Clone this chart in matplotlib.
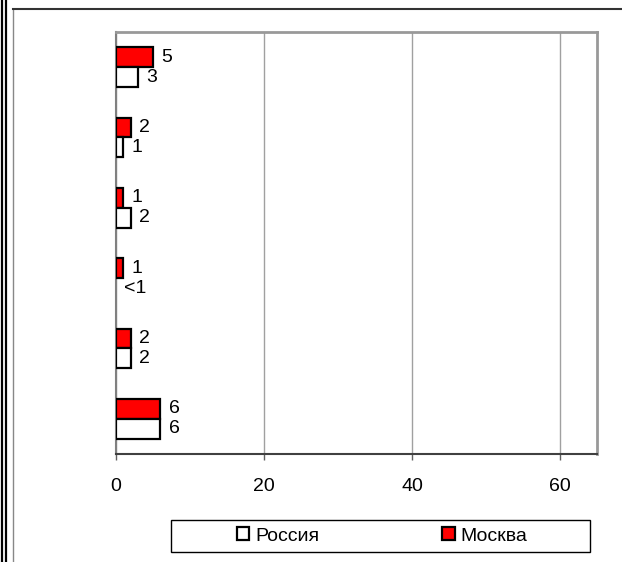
import numpy as np
import matplotlib.pyplot as plt
from matplotlib.lines import Line2D
from matplotlib.patches import Rectangle, Patch

# data, top category first
moskva = [5, 2, 1, 1, 2, 6]
rossiya = [3, 1, 2, 0, 2, 6]
moskva_labels = ["5", "2", "1", "1", "2", "6"]
rossiya_labels = ["3", "1", "2", "<1", "2", "6"]
x_ticks = [0, 20, 40, 60]

plt.rcParams['font.family'] = ['Liberation Sans', 'DejaVu Sans']
FS = 14

fig = plt.figure(figsize=(6.22, 5.62), dpi=100)
W, H = 622, 562
ax = fig.add_axes([116 / W, 1 - 454 / H, (597 - 116) / W, (454 - 32) / H])

y = np.arange(len(moskva))
h = 0.28

def edges(vals):
    return ['black' if v > 0 else 'none' for v in vals]

ax.barh(y - h / 2, moskva, height=h, color='#ff0000', edgecolor=edges(moskva), linewidth=1.6, zorder=3)
ax.barh(y + h / 2, rossiya, height=h, color='white', edgecolor=edges(rossiya), linewidth=1.6, zorder=3)

for yi, v, lab in zip(y, moskva, moskva_labels):
    ax.annotate(lab, (v, yi - h / 2), xytext=(6, 0), textcoords='offset points',
                ha='left', va='center', fontsize=FS)
for yi, v, lab in zip(y, rossiya, rossiya_labels):
    ax.annotate(lab, (v, yi + h / 2), xytext=(6, 0), textcoords='offset points',
                ha='left', va='center', fontsize=FS)

ax.set_xlim(0, 65)
ax.set_ylim(len(moskva) - 0.5, -0.5)
ax.set_xticks(x_ticks)
ax.set_yticks([])
ax.tick_params(axis='x', direction='out', length=4, width=1, color='#606060',
               labelsize=FS, pad=13)
ax.grid(axis='x', color='#a0a0a0', linewidth=1, zorder=0)
ax.spines['left'].set_color('#808080')
ax.spines['left'].set_linewidth(1.5)
ax.spines['bottom'].set_color('#404040')
ax.spines['bottom'].set_linewidth(1.5)
for s in ['top', 'right']:
    ax.spines[s].set_color('#999999')
    ax.spines[s].set_linewidth(2)

# legend
handles = [Patch(facecolor='white', edgecolor='black', linewidth=1.6, label='Россия'),
           Patch(facecolor='#ff0000', edgecolor='black', linewidth=1.6, label='Москва')]
fig.legend(handles=handles, loc='center', bbox_to_anchor=(382 / W, 1 - 536 / H),
           ncol=2, frameon=False, fontsize=FS, handlelength=0.65, handleheight=0.65,
           handletextpad=0.3, columnspacing=6.3, borderpad=0)
fig.add_artist(Rectangle((171 / W, 1 - 552 / H), (590 - 171) / W, 32 / H,
                         transform=fig.transFigure, fill=False, edgecolor='black', linewidth=1))

# outer frame lines
fig.add_artist(Line2D([1.5 / W, 1.5 / W], [0, 1], transform=fig.transFigure, color='black', linewidth=1.6))
fig.add_artist(Line2D([5.5 / W, 5.5 / W], [0, 1], transform=fig.transFigure, color='black', linewidth=1.6))
fig.add_artist(Line2D([13 / W, 13 / W], [0, 1 - 9 / H], transform=fig.transFigure, color='#888888', linewidth=1))
fig.add_artist(Line2D([13 / W, 1], [1 - 9 / H, 1 - 9 / H], transform=fig.transFigure, color='#333333', linewidth=1.5))

fig.savefig('out.png', dpi=100)
